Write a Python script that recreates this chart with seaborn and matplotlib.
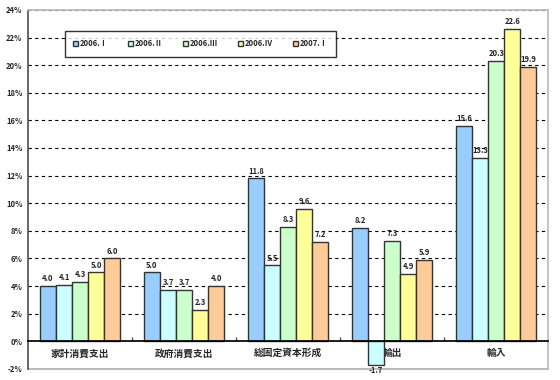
import numpy as np
import pandas as pd
import matplotlib
matplotlib.use("Agg")
import matplotlib.pyplot as plt
import seaborn as sns

categories = ["家計消費支出", "政府消費支出", "総固定資本形成", "輸出", "輸入"]
periods = ["2006.Ⅰ", "2006.Ⅱ", "2006.Ⅲ", "2006.Ⅳ", "2007.Ⅰ"]
v_2006_1 = [4.0, 5.0, 11.8, 8.2, 15.6]
v_2006_2 = [4.1, 3.7, 5.5, -1.7, 13.3]
v_2006_3 = [4.3, 3.7, 8.3, 7.3, 20.3]
v_2006_4 = [5.0, 2.3, 9.6, 4.9, 22.6]
v_2007_1 = [6.0, 4.0, 7.2, 5.9, 19.9]
colors = ["#99CCFF", "#CCFFFF", "#CCFFCC", "#FFFF99", "#FFCC99"]

rows = []
for p, vals in zip(periods, [v_2006_1, v_2006_2, v_2006_3, v_2006_4, v_2007_1]):
    for c, v in zip(categories, vals):
        rows.append({"cat": c, "period": p, "val": v})
df = pd.DataFrame(rows)

sns.set_theme(style="white")
plt.rcParams["font.family"] = ["Noto Sans CJK JP", "DejaVu Sans"]
plt.rcParams["font.weight"] = "bold"

fig = plt.figure(figsize=(5.6, 3.8), dpi=100)
ax = fig.add_axes([0.05, 0.029, 0.929, 0.945])

sns.barplot(data=df, x="cat", y="val", hue="period", palette=colors, saturation=1,
            width=0.77, edgecolor="#333333", linewidth=1.0, ax=ax, legend=True)

for cont in ax.containers:
    for bar in cont:
        h = bar.get_height()
        x = bar.get_x() + bar.get_width() / 2
        if h >= 0:
            ax.text(x, h + 0.2, f"{h:.1f}", ha="center", va="bottom",
                    fontsize=5.5, fontweight="bold")
        else:
            ax.text(x, h - 0.1, f"{h:.1f}", ha="center", va="top",
                    fontsize=5.5, fontweight="bold")

ax.set_ylim(-2, 24)
ax.set_xlim(-0.5, 4.5)
ax.set_yticks(np.arange(-2, 25, 2))
ax.set_yticklabels([f"{t}%" for t in range(-2, 25, 2)], fontsize=5.5, fontweight="bold")
for t in range(2, 25, 2):
    ax.axhline(t, color="black", linestyle=(0, (3, 3)), linewidth=0.8, zorder=0)

ax.spines["bottom"].set_position(("data", 0))
ax.spines["bottom"].set_color("black")
ax.spines["left"].set_color("#555555")
ax.spines["top"].set_color("#BBBBBB")
ax.spines["right"].set_color("#BBBBBB")
ax.axhline(-2, color="#BBBBBB", linewidth=1.5, clip_on=False)
ax.tick_params(axis="x", length=0, pad=5, labelsize=7)
ax.tick_params(axis="y", length=0, pad=4)
for lab in ax.get_xticklabels():
    lab.set_fontweight("bold")
ax.set_xticks([0.5, 1.5, 2.5, 3.5], minor=True)
ax.tick_params(axis="x", which="minor", direction="in", length=3, color="#555555", bottom=True)
ax.set_xlabel("")
ax.set_ylabel("")

leg = ax.legend(loc="upper left", bbox_to_anchor=(0.063, 0.952), ncol=5, fontsize=5.5,
                frameon=True, fancybox=False, edgecolor="black", handlelength=0.7,
                handleheight=0.7, columnspacing=2.6, handletextpad=0.2,
                borderpad=1.1, title=None)
leg.get_frame().set_linewidth(1.0)
for t in leg.get_texts():
    t.set_fontweight("bold")

fig.savefig("out.png", dpi=100)
